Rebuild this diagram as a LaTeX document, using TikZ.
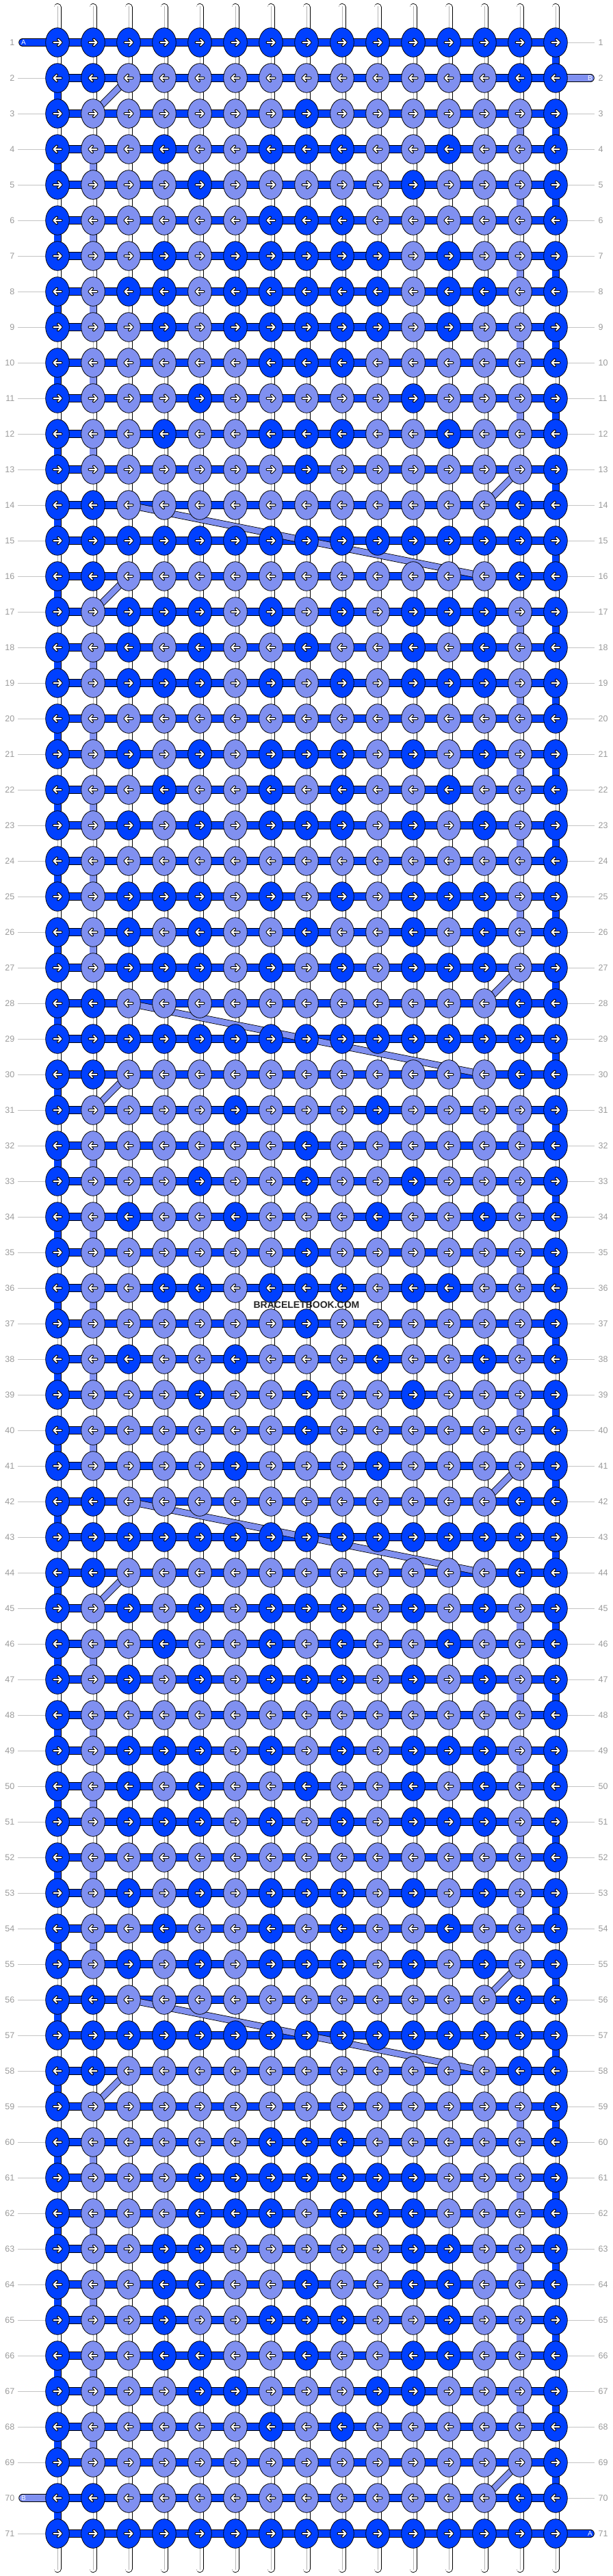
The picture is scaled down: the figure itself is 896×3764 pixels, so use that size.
\documentclass[tikz,border=0pt]{standalone}
\usepackage{fontspec}
\setmainfont{Liberation Sans}
\usetikzlibrary{shapes.geometric}
\definecolor{kD}{HTML}{0040FF}
\definecolor{kL}{HTML}{8090F0}
\definecolor{numgray}{HTML}{9A9A9A}
\definecolor{linegray}{HTML}{C4C4C4}
\definecolor{midgray}{HTML}{B4B4B4}
\def\patZ{D,D,D,D,D,D,D,D,D,D,D,D,D,D,D}
\def\patB{D,D,L,L,L,L,L,L,L,L,L,L,L,D,D}
\def\patC{D,L,L,L,L,L,L,D,L,L,L,L,L,L,D}
\def\patD{D,L,L,D,L,L,D,D,D,L,L,D,L,L,D}
\def\patE{D,L,L,L,D,L,L,L,L,L,D,L,L,L,D}
\def\patF{D,L,L,L,L,L,D,D,D,L,L,L,L,L,D}
\def\patG{D,L,L,D,L,D,D,D,D,D,L,D,L,L,D}
\def\patH{D,L,D,D,L,D,D,D,D,D,L,D,D,L,D}
\def\patI{D,L,D,D,D,L,D,L,D,L,D,D,D,L,D}
\def\patJ{D,L,D,L,D,L,L,D,L,L,D,L,D,L,D}
\def\patK{D,L,L,L,L,L,L,L,L,L,L,L,L,L,D}
\def\patL{D,L,D,L,D,L,D,D,D,L,D,L,D,L,D}
\def\patM{D,L,L,D,L,L,D,L,D,L,L,D,L,L,D}
\def\patN{D,L,L,L,L,D,L,L,L,D,L,L,L,L,D}
\def\patO{D,L,L,L,D,L,L,D,L,L,D,L,L,L,D}
\def\patP{D,L,D,L,L,D,L,L,L,D,L,L,D,L,D}
\def\patQ{D,L,L,D,D,L,D,D,D,L,D,D,L,L,D}
\def\patR{D,L,L,L,D,D,D,D,D,D,D,L,L,L,D}
\def\patS{D,L,L,L,D,D,D,L,D,D,D,L,L,L,D}
\def\patT{D,L,L,D,D,L,L,L,L,L,D,D,L,L,D}
\def\patU{D,L,L,D,D,L,L,D,L,L,D,D,L,L,D}
\def\patV{D,L,L,L,D,D,L,L,L,D,D,L,L,L,D}
\def\patW{D,L,L,L,L,L,D,L,D,L,L,L,L,L,D}
\begin{document}
\begin{tikzpicture}[x=1pt,y=-1pt,
  strand/.style={double=white, double distance=9.4pt, line width=0.8pt, draw=black, line cap=round},
  strandmid/.style={draw=midgray, line width=0.9pt},
  vdark/.style={double=kD, double distance=9.4pt, line width=0.8pt, draw=black},
  vlight/.style={double=kL, double distance=9.4pt, line width=0.8pt, draw=black},
  hbar/.style={double=kD, double distance=10.4pt, line width=0.8pt, draw=black},
  endD/.style={double=kD, double distance=10.4pt, line width=0.8pt, draw=black, line cap=round},
  endL/.style={double=kL, double distance=10.4pt, line width=0.8pt, draw=black, line cap=round},
  diag/.style={double=kL, double distance=8.4pt, line width=0.8pt, draw=black},
  knot/.style={ellipse, draw=black, line width=0.8pt, minimum width=34.6pt, minimum height=42.6pt, inner sep=0pt},
  arrO/.style={draw=black, line width=4pt, line cap=round, line join=round},
  arrI/.style={draw=white, line width=2pt, line cap=round, line join=round},
  numlab/.style={text=numgray, font=\fontsize{12.5}{12.5}\selectfont, inner sep=0pt},
  lblline/.style={draw=linegray, line width=1pt},
  endtxt/.style={text=white, font=\fontsize{10}{10}\selectfont, inner sep=0pt}]
\useasboundingbox (0,0) rectangle (896,3764);
\fill[white] (0,0) rectangle (896,3764);
% grid coordinates
\foreach \r in {1,...,71} {
  \foreach \c in {1,...,15} {
    \coordinate (p-\r-\c) at ({84+52*(\c-1)},{62+52*(\r-1)});
  }
}
% vertical strings
\foreach \c in {1,...,15} {
  \coordinate (st-\c) at ({84+52*(\c-1)},10.5);
  \coordinate (sb-\c) at ({84+52*(\c-1)},3753.5);
  \coordinate (mt-\c) at ({84+52*(\c-1)},9);
  \coordinate (mb-\c) at ({84+52*(\c-1)},3755);
  \draw[strand] (st-\c) -- (sb-\c);
  \draw[strandmid] (mt-\c) -- (mb-\c);
}
% thread A turning at the ends
\foreach \r in {1,...,70} {
  \pgfmathtruncatemacro\rn{\r+1}
  \ifodd\r
    \draw[vdark] (p-\r-15) -- (p-\rn-15);
  \else
    \draw[vdark] (p-\r-1) -- (p-\rn-1);
  \fi
}
% thread B going straight down
\foreach \s in {3,17,31,45,59} {
  \foreach \k in {0,...,4} {
    \pgfmathtruncatemacro\ra{\s+2*\k}
    \pgfmathtruncatemacro\rb{\ra+1}
    \pgfmathtruncatemacro\rc{\ra+2}
    \draw[vlight] (p-\ra-14) -- (p-\rb-14);
    \draw[vlight] (p-\rb-2) -- (p-\rc-2);
  }
}
% row bars
\foreach \r in {1,...,71} {
  \draw[hbar] (p-\r-1) -- (p-\r-15);
}
% end threads
\coordinate (eA1) at (33.2,62);
\coordinate (eB2) at (862.8,114);
\coordinate (eB70) at (33.2,3650);
\coordinate (eA71) at (862.8,3702);
\draw[endD] (eA1) -- (p-1-1);
\draw[endL] (p-2-15) -- (eB2);
\draw[endL] (eB70) -- (p-70-1);
\draw[endD] (p-71-15) -- (eA71);
% thread B diagonals
\foreach \ra/\ca/\rb/\cb in {2/3/3/2, 13/14/14/13, 14/3/16/13, 16/3/17/2,
  27/14/28/13, 28/3/30/13, 30/3/31/2, 41/14/42/13, 42/3/44/13, 44/3/45/2,
  55/14/56/13, 56/3/58/13, 58/3/59/2, 69/14/70/13} {
  \draw[diag] (p-\ra-\ca) -- (p-\rb-\cb);
}
% row numbers and their lines
\foreach \r in {1,...,71} {
  \node[numlab, anchor=east] (nl-\r) at (21.5,{62+52*(\r-1)}) {\r};
  \node[numlab, anchor=west] (nr-\r) at (874.5,{62+52*(\r-1)}) {\r};
  \ifnum\r=1\relax\else\ifnum\r=70\relax\else
    \draw[lblline] (nl-\r.east) ++(4.5,0) -- (p-\r-1);
  \fi\fi
  \ifnum\r=2\relax\else\ifnum\r=71\relax\else
    \draw[lblline] (nr-\r.west) ++(-5.5,0) -- (p-\r-15);
  \fi\fi
}
% knots
\foreach \r/\p in {1/\patZ, 2/\patB, 3/\patC, 4/\patD, 5/\patE, 6/\patF, 7/\patG, 8/\patH,
  9/\patG, 10/\patF, 11/\patE, 12/\patD, 13/\patC, 14/\patB, 15/\patZ, 16/\patB,
  17/\patI, 18/\patJ, 19/\patI, 20/\patK, 21/\patL, 22/\patM, 23/\patL, 24/\patK,
  25/\patI, 26/\patJ, 27/\patI, 28/\patB, 29/\patZ, 30/\patB, 31/\patN, 32/\patC,
  33/\patO, 34/\patP, 35/\patC, 36/\patQ, 37/\patC, 38/\patP, 39/\patO, 40/\patC,
  41/\patN, 42/\patB, 43/\patZ, 44/\patB, 45/\patL, 46/\patM, 47/\patL, 48/\patK,
  49/\patI, 50/\patJ, 51/\patI, 52/\patK, 53/\patL, 54/\patM, 55/\patL, 56/\patB,
  57/\patZ, 58/\patB, 59/\patK, 60/\patF, 61/\patR, 62/\patS, 63/\patT, 64/\patU,
  65/\patD, 66/\patU, 67/\patV, 68/\patW, 69/\patK, 70/\patB, 71/\patZ} {
  \edef\cur{\p}
  \ifodd\r \def\dd{1}\else \def\dd{-1}\fi
  \foreach \v [count=\c] in \cur {
    \node[knot, fill=k\v] (k-\r-\c) at (p-\r-\c) {};
    \draw[arrO] (p-\r-\c) ++({-5.5*\dd},0) -- ++({11*\dd},0) ++({-4.5*\dd},-4.5) -- ++({4.5*\dd},4.5) -- ++({-4.5*\dd},4.5);
    \draw[arrI] (p-\r-\c) ++({-5.5*\dd},0) -- ++({11*\dd},0) ++({-4.5*\dd},-4.5) -- ++({4.5*\dd},4.5) -- ++({-4.5*\dd},4.5);
  }
}
% end labels
\node[endtxt] (tA1) at (34.5,62) {A};
\node[endtxt] (tB2) at (862.5,114) {B};
\node[endtxt] (tB70) at (34.5,3650) {B};
\node[endtxt] (tA71) at (862.5,3702) {A};
% watermark
\node[font=\bfseries\fontsize{14}{14}\selectfont, text=black!85, inner sep=0pt] (wm) at (448,1907) {BRACELETBOOK.COM};
\end{tikzpicture}
\end{document}
